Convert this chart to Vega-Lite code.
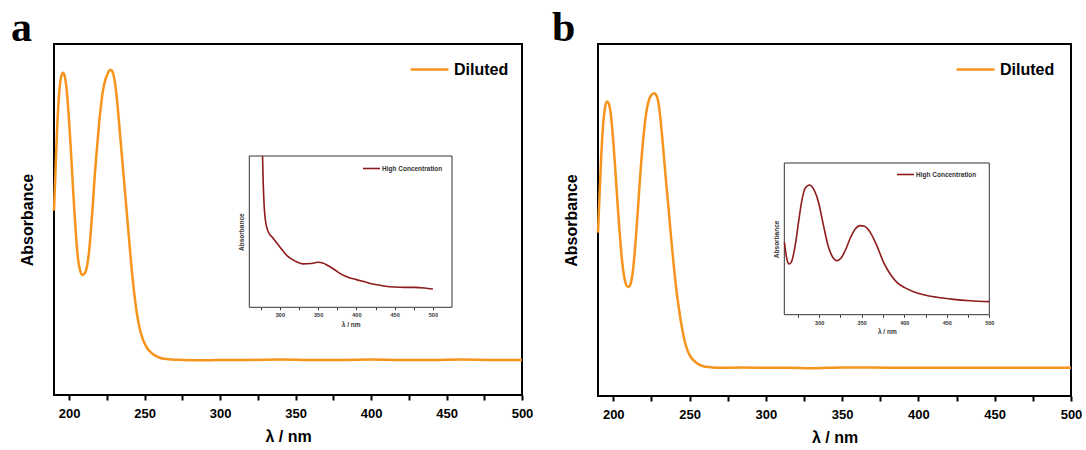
{
  "$schema": "https://vega.github.io/schema/vega-lite/v6.json",
  "background": "white",
  "padding": {"left": 10, "top": 6, "right": 0, "bottom": 0},
  "spacing": 17,
  "config": {
    "view": {"stroke": "black", "strokeWidth": 2},
    "font": "Liberation Sans",
    "axis": {"grid": false}
  },
  "datasets": {
    "dilutedA": [
      {"wl": 190, "abs": 0.525}, {"wl": 191, "abs": 0.64}, {"wl": 192, "abs": 0.75}, {"wl": 193, "abs": 0.835},
      {"wl": 194, "abs": 0.885}, {"wl": 195, "abs": 0.912}, {"wl": 196, "abs": 0.918}, {"wl": 197, "abs": 0.91},
      {"wl": 198, "abs": 0.885}, {"wl": 199, "abs": 0.84}, {"wl": 200, "abs": 0.78}, {"wl": 201, "abs": 0.71},
      {"wl": 202, "abs": 0.635}, {"wl": 203, "abs": 0.56}, {"wl": 204, "abs": 0.49}, {"wl": 205, "abs": 0.43},
      {"wl": 206, "abs": 0.385}, {"wl": 207, "abs": 0.36}, {"wl": 208, "abs": 0.346}, {"wl": 209, "abs": 0.342},
      {"wl": 210, "abs": 0.345}, {"wl": 211, "abs": 0.352}, {"wl": 212, "abs": 0.37}, {"wl": 213, "abs": 0.4},
      {"wl": 214, "abs": 0.445}, {"wl": 215, "abs": 0.5}, {"wl": 216, "abs": 0.56}, {"wl": 217, "abs": 0.625},
      {"wl": 218, "abs": 0.68}, {"wl": 219, "abs": 0.73}, {"wl": 220, "abs": 0.78}, {"wl": 221, "abs": 0.82},
      {"wl": 222, "abs": 0.855}, {"wl": 223, "abs": 0.88}, {"wl": 224, "abs": 0.898}, {"wl": 225, "abs": 0.91},
      {"wl": 226, "abs": 0.92}, {"wl": 227, "abs": 0.926}, {"wl": 228, "abs": 0.926}, {"wl": 229, "abs": 0.918},
      {"wl": 230, "abs": 0.9}, {"wl": 231, "abs": 0.87}, {"wl": 232, "abs": 0.83}, {"wl": 233, "abs": 0.78},
      {"wl": 234, "abs": 0.73}, {"wl": 235, "abs": 0.68}, {"wl": 236, "abs": 0.63}, {"wl": 237, "abs": 0.58},
      {"wl": 238, "abs": 0.53}, {"wl": 239, "abs": 0.48}, {"wl": 240, "abs": 0.43}, {"wl": 241, "abs": 0.38},
      {"wl": 242, "abs": 0.335}, {"wl": 243, "abs": 0.295}, {"wl": 244, "abs": 0.26}, {"wl": 245, "abs": 0.23},
      {"wl": 246, "abs": 0.205}, {"wl": 247, "abs": 0.185}, {"wl": 248, "abs": 0.17}, {"wl": 249, "abs": 0.157},
      {"wl": 250, "abs": 0.147}, {"wl": 252, "abs": 0.132}, {"wl": 254, "abs": 0.122}, {"wl": 256, "abs": 0.115},
      {"wl": 258, "abs": 0.11}, {"wl": 260, "abs": 0.106}, {"wl": 263, "abs": 0.103}, {"wl": 268, "abs": 0.101},
      {"wl": 275, "abs": 0.1}, {"wl": 290, "abs": 0.099}, {"wl": 305, "abs": 0.1}, {"wl": 320, "abs": 0.1},
      {"wl": 340, "abs": 0.101}, {"wl": 360, "abs": 0.1}, {"wl": 380, "abs": 0.1}, {"wl": 400, "abs": 0.101},
      {"wl": 420, "abs": 0.1}, {"wl": 440, "abs": 0.1}, {"wl": 460, "abs": 0.101}, {"wl": 480, "abs": 0.1},
      {"wl": 500, "abs": 0.1}
    ],
    "concA": [
      {"wl": 277.3, "abs": 1.0}, {"wl": 278.2, "abs": 0.819}, {"wl": 279.5, "abs": 0.664}, {"wl": 281.7, "abs": 0.554},
      {"wl": 284.8, "abs": 0.499}, {"wl": 290.4, "abs": 0.461}, {"wl": 300, "abs": 0.399}, {"wl": 310, "abs": 0.338},
      {"wl": 320, "abs": 0.305}, {"wl": 330, "abs": 0.287}, {"wl": 340, "abs": 0.289}, {"wl": 350, "abs": 0.298},
      {"wl": 356, "abs": 0.293}, {"wl": 362, "abs": 0.278}, {"wl": 371, "abs": 0.25}, {"wl": 380, "abs": 0.219},
      {"wl": 390, "abs": 0.197}, {"wl": 400, "abs": 0.183}, {"wl": 410, "abs": 0.17}, {"wl": 423, "abs": 0.152},
      {"wl": 436, "abs": 0.141}, {"wl": 450, "abs": 0.134}, {"wl": 463, "abs": 0.132}, {"wl": 476, "abs": 0.132},
      {"wl": 489, "abs": 0.128}, {"wl": 500, "abs": 0.121}
    ],
    "dilutedB": [
      {"wl": 190, "abs": 0.464}, {"wl": 191, "abs": 0.57}, {"wl": 192, "abs": 0.67}, {"wl": 193, "abs": 0.75},
      {"wl": 194, "abs": 0.8}, {"wl": 195, "abs": 0.828}, {"wl": 196, "abs": 0.837}, {"wl": 197, "abs": 0.832},
      {"wl": 198, "abs": 0.812}, {"wl": 199, "abs": 0.775}, {"wl": 200, "abs": 0.725}, {"wl": 201, "abs": 0.665},
      {"wl": 202, "abs": 0.6}, {"wl": 203, "abs": 0.535}, {"wl": 204, "abs": 0.475}, {"wl": 205, "abs": 0.42},
      {"wl": 206, "abs": 0.375}, {"wl": 207, "abs": 0.343}, {"wl": 208, "abs": 0.322}, {"wl": 209, "abs": 0.312},
      {"wl": 210, "abs": 0.31}, {"wl": 211, "abs": 0.314}, {"wl": 212, "abs": 0.33}, {"wl": 213, "abs": 0.36},
      {"wl": 214, "abs": 0.405}, {"wl": 215, "abs": 0.46}, {"wl": 216, "abs": 0.52}, {"wl": 217, "abs": 0.585},
      {"wl": 218, "abs": 0.645}, {"wl": 219, "abs": 0.7}, {"wl": 220, "abs": 0.745}, {"wl": 221, "abs": 0.785},
      {"wl": 222, "abs": 0.815}, {"wl": 223, "abs": 0.835}, {"wl": 224, "abs": 0.848}, {"wl": 225, "abs": 0.855},
      {"wl": 226, "abs": 0.859}, {"wl": 227, "abs": 0.86}, {"wl": 228, "abs": 0.856}, {"wl": 229, "abs": 0.845},
      {"wl": 230, "abs": 0.822}, {"wl": 231, "abs": 0.785}, {"wl": 232, "abs": 0.74}, {"wl": 233, "abs": 0.69},
      {"wl": 234, "abs": 0.64}, {"wl": 235, "abs": 0.59}, {"wl": 236, "abs": 0.545}, {"wl": 237, "abs": 0.495},
      {"wl": 238, "abs": 0.445}, {"wl": 239, "abs": 0.4}, {"wl": 240, "abs": 0.355}, {"wl": 241, "abs": 0.315},
      {"wl": 242, "abs": 0.28}, {"wl": 243, "abs": 0.25}, {"wl": 244, "abs": 0.22}, {"wl": 245, "abs": 0.195},
      {"wl": 246, "abs": 0.172}, {"wl": 247, "abs": 0.153}, {"wl": 248, "abs": 0.138}, {"wl": 249, "abs": 0.126},
      {"wl": 250, "abs": 0.117}, {"wl": 252, "abs": 0.104}, {"wl": 254, "abs": 0.096}, {"wl": 256, "abs": 0.09},
      {"wl": 258, "abs": 0.086}, {"wl": 261, "abs": 0.083}, {"wl": 265, "abs": 0.081}, {"wl": 270, "abs": 0.08},
      {"wl": 285, "abs": 0.081}, {"wl": 300, "abs": 0.08}, {"wl": 315, "abs": 0.08}, {"wl": 330, "abs": 0.079},
      {"wl": 350, "abs": 0.081}, {"wl": 370, "abs": 0.081}, {"wl": 390, "abs": 0.08}, {"wl": 410, "abs": 0.08},
      {"wl": 430, "abs": 0.08}, {"wl": 450, "abs": 0.08}, {"wl": 470, "abs": 0.08}, {"wl": 500, "abs": 0.08}
    ],
    "concB": [
      {"wl": 259.2, "abs": 0.477}, {"wl": 262, "abs": 0.367}, {"wl": 264.7, "abs": 0.334}, {"wl": 267.9, "abs": 0.356},
      {"wl": 271.8, "abs": 0.455}, {"wl": 275.7, "abs": 0.609}, {"wl": 279.6, "abs": 0.752}, {"wl": 283.5, "abs": 0.833},
      {"wl": 288.6, "abs": 0.855}, {"wl": 293.3, "abs": 0.829}, {"wl": 299.2, "abs": 0.741}, {"wl": 305.1, "abs": 0.587},
      {"wl": 311, "abs": 0.444}, {"wl": 316.8, "abs": 0.372}, {"wl": 320.8, "abs": 0.356}, {"wl": 325.5, "abs": 0.372},
      {"wl": 330.6, "abs": 0.422}, {"wl": 336.5, "abs": 0.504}, {"wl": 342.4, "abs": 0.565}, {"wl": 348.2, "abs": 0.587},
      {"wl": 353.3, "abs": 0.583}, {"wl": 360, "abs": 0.543}, {"wl": 367.8, "abs": 0.455}, {"wl": 375.7, "abs": 0.345},
      {"wl": 383.5, "abs": 0.268}, {"wl": 391.4, "abs": 0.213}, {"wl": 400, "abs": 0.18}, {"wl": 411, "abs": 0.152},
      {"wl": 422.7, "abs": 0.132}, {"wl": 438.4, "abs": 0.115}, {"wl": 458, "abs": 0.101}, {"wl": 477.6, "abs": 0.092},
      {"wl": 500, "abs": 0.086}
    ]
  },
  "hconcat": [
    {
      "title": {"text": "a", "font": "Liberation Serif", "fontSize": 42, "fontWeight": "bold", "color": "black", "anchor": "start", "frame": "group", "dx": -43, "offset": -6},
      "width": 468,
      "height": 351,
      "layer": [
        {
          "data": {"name": "dilutedA"},
          "mark": {"type": "line", "strokeWidth": 2.5, "interpolate": "monotone"},
          "encoding": {
            "x": {
              "field": "wl", "type": "quantitative",
              "scale": {"domain": [190, 500], "nice": false, "zero": false},
              "axis": {
                "orient": "bottom", "values": [200, 225, 250, 275, 300, 325, 350, 375, 400, 425, 450, 475, 500],
                "labelExpr": "datum.value % 50 === 0 ? datum.label : ''",
                "domain": false, "tickSize": 5, "tickWidth": 2, "tickColor": "black",
                "labelFontSize": 13, "labelFontWeight": "bold", "labelColor": "black", "labelPadding": 7, "labelFlush": false,
                "title": "λ / nm", "titleFontSize": 16, "titleFontWeight": "bold", "titleColor": "black", "titlePadding": 8
              }
            },
            "y": {
              "field": "abs", "type": "quantitative",
              "scale": {"domain": [0, 1], "nice": false},
              "axis": {
                "orient": "left", "ticks": false, "labels": false, "domain": false,
                "title": "Absorbance", "titleFontSize": 16, "titleFontWeight": "bold", "titleColor": "black", "titlePadding": 19
              }
            },
            "color": {
              "datum": "Diluted", "type": "nominal",
              "scale": {"range": ["#F7941D"]},
              "legend": {
                "orient": "none", "legendX": 355, "legendY": 5, "title": null, "padding": 0,
                "symbolType": "stroke", "symbolSize": 1444, "symbolStrokeWidth": 2.5,
                "labelFontSize": 16, "labelFontWeight": "bold", "labelColor": "black", "labelOffset": 4
              }
            }
          }
        },
        {
          "layer": [
            {
              "data": {"values": [{}]},
              "mark": {"type": "rect", "fill": "white", "stroke": "#333333", "strokeWidth": 1},
              "encoding": {
                "x": {"datum": 260, "type": "quantitative"},
                "x2": {"datum": 525},
                "y": {"datum": 0, "type": "quantitative"},
                "y2": {"datum": 1}
              }
            },
            {
              "data": {"name": "concA"},
              "mark": {"type": "line", "strokeWidth": 1.6, "interpolate": "monotone"},
              "encoding": {
                "x": {
                  "field": "wl", "type": "quantitative",
                  "scale": {"domain": [260, 525], "range": [195.3, 398], "nice": false, "zero": false},
                  "axis": {
                    "orient": "bottom", "offset": -87.7, "values": [275, 300, 325, 350, 375, 400, 425, 450, 475, 500],
                    "labelExpr": "datum.value % 50 === 0 ? datum.label : ''",
                    "domain": false, "tickSize": 2.5, "tickWidth": 1, "tickColor": "#333333",
                    "labelFontSize": 5.5, "labelFontWeight": "bold", "labelColor": "#333333", "labelPadding": 3, "labelFlush": false,
                    "title": "λ / nm", "titleFontSize": 6.5, "titleFontWeight": "bold", "titleColor": "#333333", "titlePadding": 3
                  }
                },
                "y": {
                  "field": "abs", "type": "quantitative",
                  "scale": {"domain": [0, 1], "range": [263.3, 112], "nice": false},
                  "axis": {
                    "orient": "left", "offset": -195.3, "ticks": false, "labels": false, "domain": false,
                    "title": "Absorbance", "titleFontSize": 6.5, "titleFontWeight": "bold", "titleColor": "#333333", "titlePadding": 5
                  }
                },
                "color": {
                  "datum": "High Concentration", "type": "nominal",
                  "scale": {"range": ["#8E1B1B"]},
                  "legend": {
                    "orient": "none", "legendX": 308, "legendY": 115, "title": null, "padding": 0,
                    "symbolType": "stroke", "symbolSize": 289, "symbolStrokeWidth": 1.6,
                    "labelFontSize": 6.5, "labelFontWeight": "bold", "labelColor": "#333333", "labelOffset": 1
                  }
                }
              }
            }
          ]
        }
      ],
      "resolve": {"scale": {"x": "independent", "y": "independent", "color": "independent"}}
    },
    {
      "title": {"text": "b", "font": "Liberation Serif", "fontSize": 42, "fontWeight": "bold", "color": "black", "anchor": "start", "frame": "group", "dx": -46, "offset": -6},
      "width": 473,
      "height": 352,
      "layer": [
        {
          "data": {"name": "dilutedB"},
          "mark": {"type": "line", "strokeWidth": 2.5, "interpolate": "monotone"},
          "encoding": {
            "x": {
              "field": "wl", "type": "quantitative",
              "scale": {"domain": [190, 500], "nice": false, "zero": false},
              "axis": {
                "orient": "bottom", "values": [200, 225, 250, 275, 300, 325, 350, 375, 400, 425, 450, 475, 500],
                "labelExpr": "datum.value % 50 === 0 ? datum.label : ''",
                "domain": false, "tickSize": 5, "tickWidth": 2, "tickColor": "black",
                "labelFontSize": 13, "labelFontWeight": "bold", "labelColor": "black", "labelPadding": 7, "labelFlush": false,
                "title": "λ / nm", "titleFontSize": 16, "titleFontWeight": "bold", "titleColor": "black", "titlePadding": 8
              }
            },
            "y": {
              "field": "abs", "type": "quantitative",
              "scale": {"domain": [0, 1], "nice": false},
              "axis": {
                "orient": "left", "ticks": false, "labels": false, "domain": false,
                "title": "Absorbance", "titleFontSize": 16, "titleFontWeight": "bold", "titleColor": "black", "titlePadding": 19
              }
            },
            "color": {
              "datum": "Diluted", "type": "nominal",
              "scale": {"range": ["#F7941D"]},
              "legend": {
                "orient": "none", "legendX": 357, "legendY": 5, "title": null, "padding": 0,
                "symbolType": "stroke", "symbolSize": 1444, "symbolStrokeWidth": 2.5,
                "labelFontSize": 16, "labelFontWeight": "bold", "labelColor": "black", "labelOffset": 4
              }
            }
          }
        },
        {
          "layer": [
            {
              "data": {"values": [{}]},
              "mark": {"type": "rect", "fill": "white", "stroke": "#333333", "strokeWidth": 1},
              "encoding": {
                "x": {"datum": 259, "type": "quantitative"},
                "x2": {"datum": 500},
                "y": {"datum": 0, "type": "quantitative"},
                "y2": {"datum": 1}
              }
            },
            {
              "data": {"name": "concB"},
              "mark": {"type": "line", "strokeWidth": 1.6, "interpolate": "monotone"},
              "encoding": {
                "x": {
                  "field": "wl", "type": "quantitative",
                  "scale": {"domain": [259, 500], "range": [186.3, 391.3], "nice": false, "zero": false},
                  "axis": {
                    "orient": "bottom", "offset": -81.3, "values": [275, 300, 325, 350, 375, 400, 425, 450, 475, 500],
                    "labelExpr": "datum.value % 50 === 0 ? datum.label : ''",
                    "domain": false, "tickSize": 2.5, "tickWidth": 1, "tickColor": "#333333",
                    "labelFontSize": 5.5, "labelFontWeight": "bold", "labelColor": "#333333", "labelPadding": 3, "labelFlush": false,
                    "title": "λ / nm", "titleFontSize": 6.5, "titleFontWeight": "bold", "titleColor": "#333333", "titlePadding": 3
                  }
                },
                "y": {
                  "field": "abs", "type": "quantitative",
                  "scale": {"domain": [0, 1], "range": [270.7, 119], "nice": false},
                  "axis": {
                    "orient": "left", "offset": -186.3, "ticks": false, "labels": false, "domain": false,
                    "title": "Absorbance", "titleFontSize": 6.5, "titleFontWeight": "bold", "titleColor": "#333333", "titlePadding": 5
                  }
                },
                "color": {
                  "datum": "High Concentration", "type": "nominal",
                  "scale": {"range": ["#8E1B1B"]},
                  "legend": {
                    "orient": "none", "legendX": 298, "legendY": 121, "title": null, "padding": 0,
                    "symbolType": "stroke", "symbolSize": 289, "symbolStrokeWidth": 1.6,
                    "labelFontSize": 6.5, "labelFontWeight": "bold", "labelColor": "#333333", "labelOffset": 1
                  }
                }
              }
            }
          ]
        }
      ],
      "resolve": {"scale": {"x": "independent", "y": "independent", "color": "independent"}}
    }
  ]
}
